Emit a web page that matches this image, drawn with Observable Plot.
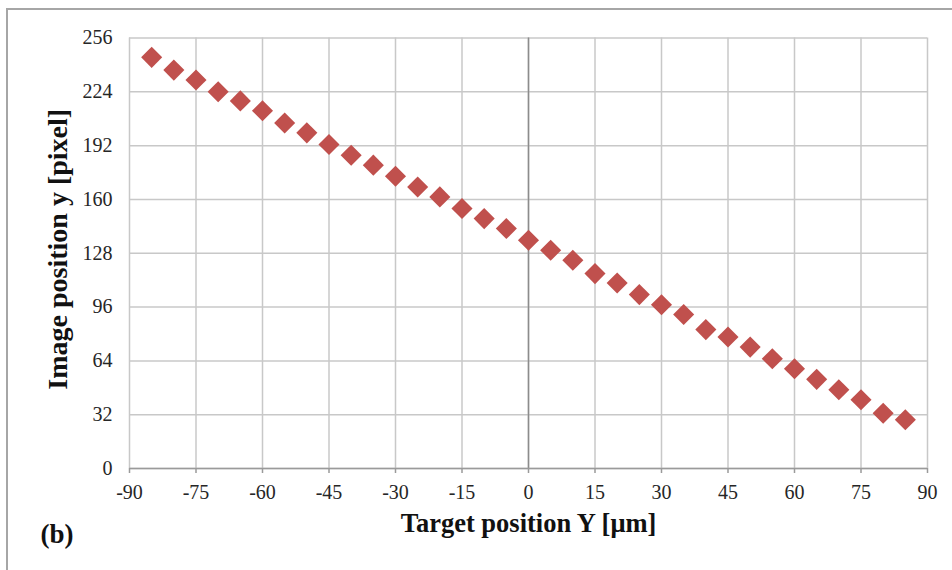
<!DOCTYPE html>
<html>
<head>
<meta charset="utf-8">
<script src="https://cdn.jsdelivr.net/npm/d3@7"></script>
<script src="https://cdn.jsdelivr.net/npm/@observablehq/plot@0.6"></script>
<style>
  html, body { margin: 0; padding: 0; background: #fff; overflow: hidden; }
  #wrap { position: relative; width: 952px; height: 570px; }
  #frame { position: absolute; left: 6px; top: 8px; width: 960px; height: 600px;
           border-left: 2px solid #a6a6a6; border-top: 2px solid #a6a6a6; box-sizing: border-box; }
  #chart { position: absolute; left: 0; top: 0; }
  svg { font-family: "Liberation Serif", "Times New Roman", serif; }
</style>
</head>
<body>
<div id="wrap"><div id="frame"></div><div id="chart"></div></div>
<script>
// Target position Y [µm]
const targetY = [-85, -80, -75, -70, -65, -60, -55, -50, -45, -40, -35, -30, -25, -20, -15, -10, -5,
  0, 5, 10, 15, 20, 25, 30, 35, 40, 45, 50, 55, 60, 65, 70, 75, 80, 85];
// Image position y [pixel]
const imageY = [244.5, 236.9, 231.0, 224.0, 218.6, 212.7, 205.5, 199.6, 192.7, 186.3, 180.4, 173.8, 167.4,
  161.5, 154.6, 148.6, 142.7, 135.7, 129.8, 123.8, 115.9, 110.3, 103.4, 97.4, 91.6, 82.6, 78.2, 72.2,
  65.3, 59.3, 53.0, 46.8, 40.9, 32.9, 29.0];
const xTicks = [-90, -75, -60, -45, -30, -15, 0, 15, 30, 45, 60, 75, 90];
const yTicks = [0, 32, 64, 96, 128, 160, 192, 224, 256];
const xTitle = "Target position Y [μm]";
const yTitle = "Image position y [pixel]";
const panelLabel = "(b)";

const data = targetY.map((t, i) => ({ t, v: imageY[i] }));
const fmt = d => String(d); // plain hyphen-minus, as in the reference

const chart = Plot.plot({
  width: 952,
  height: 570,
  marginLeft: 129,
  marginRight: 25,
  marginTop: 37.5,
  marginBottom: 102,
  style: { fontFamily: "Liberation Serif, Times New Roman, serif", background: "transparent" },
  x: { domain: [-90, 90], ticks: xTicks, label: null },
  y: { domain: [0, 256], ticks: yTicks, label: null },
  marks: [
    Plot.gridX(xTicks, { stroke: "#c8c8c8", strokeOpacity: 1, strokeWidth: 1.5 }),
    Plot.gridY(yTicks, { stroke: "#c8c8c8", strokeOpacity: 1, strokeWidth: 1.5 }),
    Plot.ruleX([0], { stroke: "#8c8c8c", strokeWidth: 1.5 }),
    Plot.ruleY([0], { stroke: "#9a9a9a", strokeWidth: 1.5 }),
    Plot.axisX(xTicks, { tickSize: 5, text: null, label: null, stroke: "#9a9a9a", strokeWidth: 1.5 }),
    Plot.axisX(xTicks, { tickSize: 0, tickPadding: 16, fontSize: 20, fill: "#262626", label: null, tickFormat: fmt }),
    Plot.axisY(yTicks, { tickSize: 0, tickPadding: 17, fontSize: 20, fill: "#262626", label: null, tickFormat: fmt }),
    Plot.dot(data, { x: "t", y: "v", symbol: "diamond2", r: 9.5, fill: "#c0504d", stroke: "none" }),
    Plot.text([xTitle], { text: d => d, frameAnchor: "bottom", dy: 63, fontSize: 26.5, fontWeight: "bold", fill: "#111" }),
    Plot.text([yTitle], { text: d => d, frameAnchor: "left", textAnchor: "middle", dx: -71, dy: -4, rotate: -90, fontSize: 28, fontWeight: "bold", fill: "#111" }),
    Plot.text([panelLabel], { text: d => d, frameAnchor: "bottom-left", dx: -89, dy: 74, textAnchor: "start", fontSize: 27, fontWeight: "bold", fill: "#111" })
  ]
});
document.getElementById("chart").appendChild(chart);
</script>
</body>
</html>
